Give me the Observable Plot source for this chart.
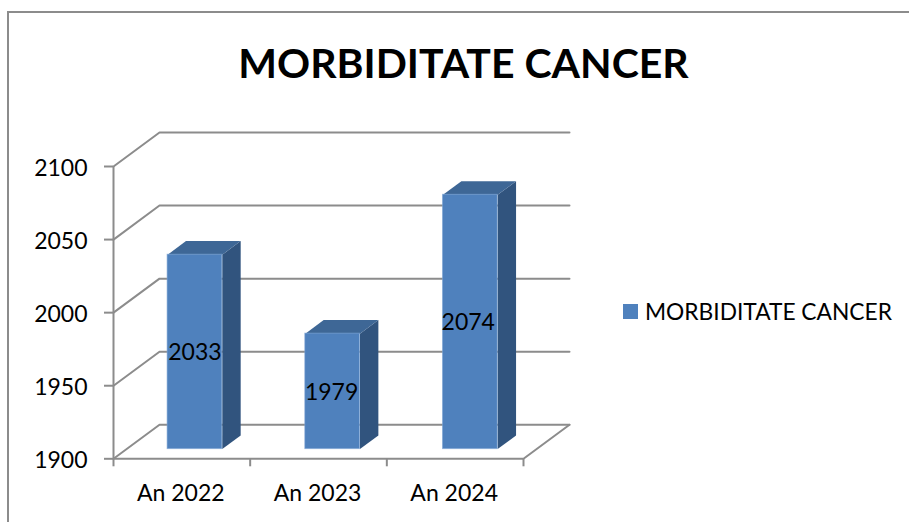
<!DOCTYPE html>
<html>
<head>
<meta charset="utf-8">
<script src="https://cdn.jsdelivr.net/npm/d3@7"></script>
<script src="https://cdn.jsdelivr.net/npm/@observablehq/plot@0.6"></script>
<style>
  html, body { margin: 0; padding: 0; background: #fff; overflow: hidden; }
  #wrap { position: relative; width: 909px; height: 522px; font-family: Lato, sans-serif; color: #000; }
  #border { position: absolute; left: 7px; top: 11px; width: 902px; height: 511px; box-sizing: border-box;
            border-top: 2px solid #8c8c8c; border-left: 2px solid #8c8c8c; }
  #title { position: absolute; left: 7px; width: 913px; top: 33px; text-align: center; font-size: 41px; font-weight: 700; line-height: 60px; margin: 0; }
  #legend { position: absolute; left: 623px; top: 296px; display: flex; align-items: center; height: 31px; font-size: 22.75px; white-space: nowrap; }
  #legend i { display: block; width: 15px; height: 15px; background: #4f81bd; margin-right: 7px; }
  svg { display: block; position: absolute; left: 0; top: 0; }
</style>
</head>
<body>
<div id="wrap">
  <div id="border"></div>
  <div id="chart"></div>
  <h1 id="title">MORBIDITATE CANCER</h1>
  <div id="legend"><i></i><span>MORBIDITATE CANCER</span></div>
</div>
<script>
const categories = ["An 2022", "An 2023", "An 2024"];
const morbiditate = [2033, 1979, 2074];
const yTicks = [1900, 1950, 2000, 2050, 2100];
const seriesName = "MORBIDITATE CANCER";

// Oblique projection of the 3D plot box, expressed in data units of the two scales.
const depthX = 46 / 136.67;
const depthY = 34 / 1.461;
const barWidth = 0.4, barStart = 0.285, barEnd = 0.685, baseY = yTicks[0], barPitch = 1.0075;
const px = (x, z) => x + z * depthX;
const py = (y, z) => y + z * depthY;

const GRID = "#8c8c8c", FRONT = "#4f81bd", SIDE = "#31547e", TOP = "#3e6796";

const bars = categories.map((c, i) => {
  const l = i * barPitch + (1 - barWidth) / 2, r = l + barWidth;
  return {c, i, v: morbiditate[i], l, r};
});
const face = (b, pts) => pts.map(([x, y, z]) => ({id: b.c, x: px(x, z), y: py(y, z)}));
const sides = bars.flatMap(b => face(b, [[b.r, baseY, barStart], [b.r, baseY, barEnd], [b.r, b.v, barEnd], [b.r, b.v, barStart]]));
const tops = bars.flatMap(b => face(b, [[b.l, b.v, barStart], [b.l, b.v, barEnd], [b.r, b.v, barEnd], [b.r, b.v, barStart]]));

const wall = yTicks.flatMap(v => [[0, v, 0], [0, v, 1], [3, v, 1]].map(([x, y, z]) => ({id: v, x: px(x, z), y: py(y, z)})));
const floorEdge = [[3, baseY, 0], [3, baseY, 1]].map(([x, y, z]) => ({x: px(x, z), y: py(y, z)}));

const plot = Plot.plot({
  width: 909, height: 522,
  marginLeft: 113, marginRight: 386, marginTop: 166, marginBottom: 63.7,
  style: {fontFamily: "Lato, sans-serif", background: "transparent", overflow: "visible"},
  x: {domain: [0, 3], axis: null},
  y: {domain: [1900, 2100], axis: null},
  marks: [
    Plot.line(wall, {x: "x", y: "y", z: "id", stroke: GRID, strokeWidth: 2}),
    Plot.line(floorEdge, {x: "x", y: "y", stroke: GRID, strokeWidth: 2}),
    Plot.axisY({ticks: yTicks, tickSize: 9, stroke: GRID, strokeWidth: 2, tickFormat: () => "", label: null}),
    Plot.axisY({ticks: yTicks, tickSize: 0, tickPadding: 26, dy: 2, fontSize: 23, fill: "#000", label: null, tickFormat: d => String(d)}),
    Plot.ruleX([0], {y1: 1900, y2: 2100, stroke: GRID, strokeWidth: 2}),
    Plot.ruleY([1900], {x1: 0, x2: 3, stroke: GRID, strokeWidth: 2}),
    Plot.axisX({ticks: [0, 1, 2, 3], tickSize: 8, stroke: GRID, strokeWidth: 2, tickFormat: () => "", label: null}),
    Plot.axisX({ticks: categories.map((c, i) => i + 0.5), tickSize: 0, tickPadding: 26, dx: -1, fontSize: 23, fill: "#000", label: null,
      tickFormat: d => categories[Math.floor(d)]}),
    Plot.line(sides, {x: "x", y: "y", z: "id", fill: SIDE, stroke: "none"}),
    Plot.line(tops, {x: "x", y: "y", z: "id", fill: TOP, stroke: "none"}),
    Plot.rect(bars, {
      x1: b => px(b.l, barStart), x2: b => px(b.r, barStart),
      y1: py(baseY, barStart), y2: b => py(b.v, barStart),
      fill: FRONT, stroke: "#7ba3d4", strokeWidth: 1, strokeOpacity: 0.6
    }),
    Plot.text(bars, {
      x: b => px(b.i + 0.5, barStart),
      y: b => py((baseY + b.v) / 2, barStart),
      text: b => String(b.v), fontSize: 23, fill: "#000", dy: 1
    })
  ]
});
document.getElementById("chart").append(plot);
document.querySelector("#legend span").textContent = seriesName;
</script>
</body>
</html>
